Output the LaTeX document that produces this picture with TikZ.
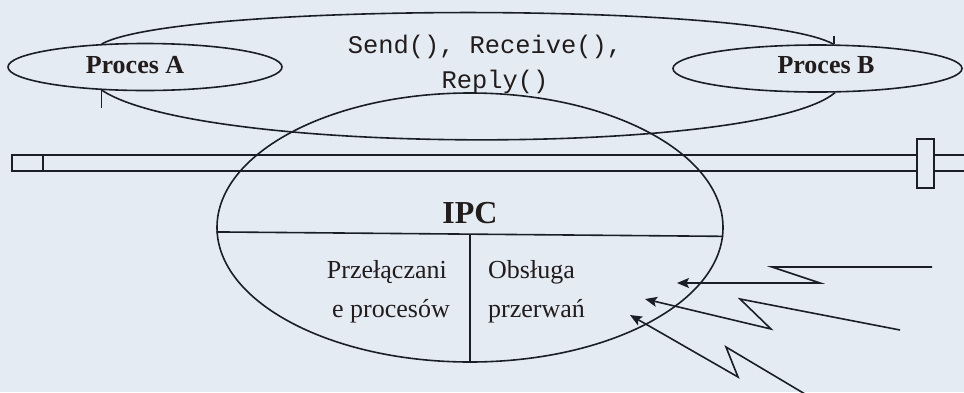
\documentclass[tikz,border=0pt]{standalone}
\usepackage{fontspec}
\setmainfont{Liberation Serif}
\newfontfamily\monof{Liberation Mono}
\usetikzlibrary{arrows.meta,shapes.geometric}
\definecolor{bgc}{HTML}{E4EBF3}
\definecolor{ink}{HTML}{1A1F27}
\definecolor{txt}{HTML}{221C1C}
\tikzset{
  ln/.style={draw=ink, line width=1.6pt},
  proc/.style={ellipse, draw=ink, line width=1.6pt, inner sep=0pt},
  lbl/.style={text=txt, inner sep=0pt, anchor=base},
  boldlbl/.style={lbl, font=\fontsize{26}{30}\selectfont\bfseries},
  mono/.style={lbl, font=\fontsize{25.4}{30}\selectfont\monof},
  reg/.style={lbl, font=\fontsize{26}{30}\selectfont},
  arr/.style={ln, line join=miter, -{Stealth[length=12pt,width=10pt,inset=2.5pt]}}
}
\begin{document}
\begin{tikzpicture}[x=1pt,y=-1pt]
\fill[bgc] (0,0) rectangle (964,392);
\useasboundingbox (0,0) rectangle (964,392);

% horizontal bar
\draw[ln] (964,155) -- (12,155) -- (12,171) -- (964,171);
\draw[ln] (43,155) -- (43,171);
\draw[ln, fill=bgc] (917,139) rectangle (934,188);

% processes
\node[proc, minimum width=274pt, minimum height=47pt] (procA) at (145,67) {};
\node[boldlbl] (procAt) at (135,73) {Proces A};
\node[proc, minimum width=289pt, minimum height=47pt] (procB) at (817.5,68.5) {};
\node[boldlbl] (procBt) at (826,73) {Proces B};

% big communication shape
\draw[ln] (procA.152) .. controls (180,2) and (760,2) .. (procB.56.5);
\draw[ln] (procB.56.5) -- ++(0,-8);
\draw[ln] (procA.208) .. controls (200,156) and (760,156) .. (procB.306.5);
\draw[ln] (procA.208) -- ++(0,18);
\node[mono] (send1) at (485,53) {Send(), Receive(),};
\node[mono] (send2) at (495,88) {Reply()};

% IPC
\node[proc, minimum width=506pt, minimum height=269pt] (ipc) at (470,227.5) {};
\draw[ln] (ipc.181.7) -- (ipc.358.3);
\coordinate (mid) at (470,235);
\draw[ln] (mid) -- (ipc.south);
\node[lbl, font=\fontsize{32}{36}\selectfont\bfseries] (ipct) at (470,223) {IPC};
\node[reg, anchor=base east] (p1) at (447,278) {Przełączani};
\node[reg, anchor=base east] (p2) at (450,317) {e procesów};
\node[reg, anchor=base west] (o1) at (488,278) {Obsługa};
\node[reg, anchor=base west] (o2) at (488,317) {przerwań};

% interrupts
\coordinate (s1) at (932,267);
\coordinate (t1) at (677,283);
\draw[arr] (s1) -- (772,267) -- (820,283) -- (t1);
\coordinate (s2) at (900,330);
\coordinate (t2) at (645,299);
\draw[arr] (s2) -- (740,299) -- (771,329) -- (t2);
\coordinate (s3) at (805,394);
\coordinate (t3) at (630,315);
\draw[arr] (s3) -- (726,347) -- (738,377) -- (t3);
\end{tikzpicture}
\end{document}
